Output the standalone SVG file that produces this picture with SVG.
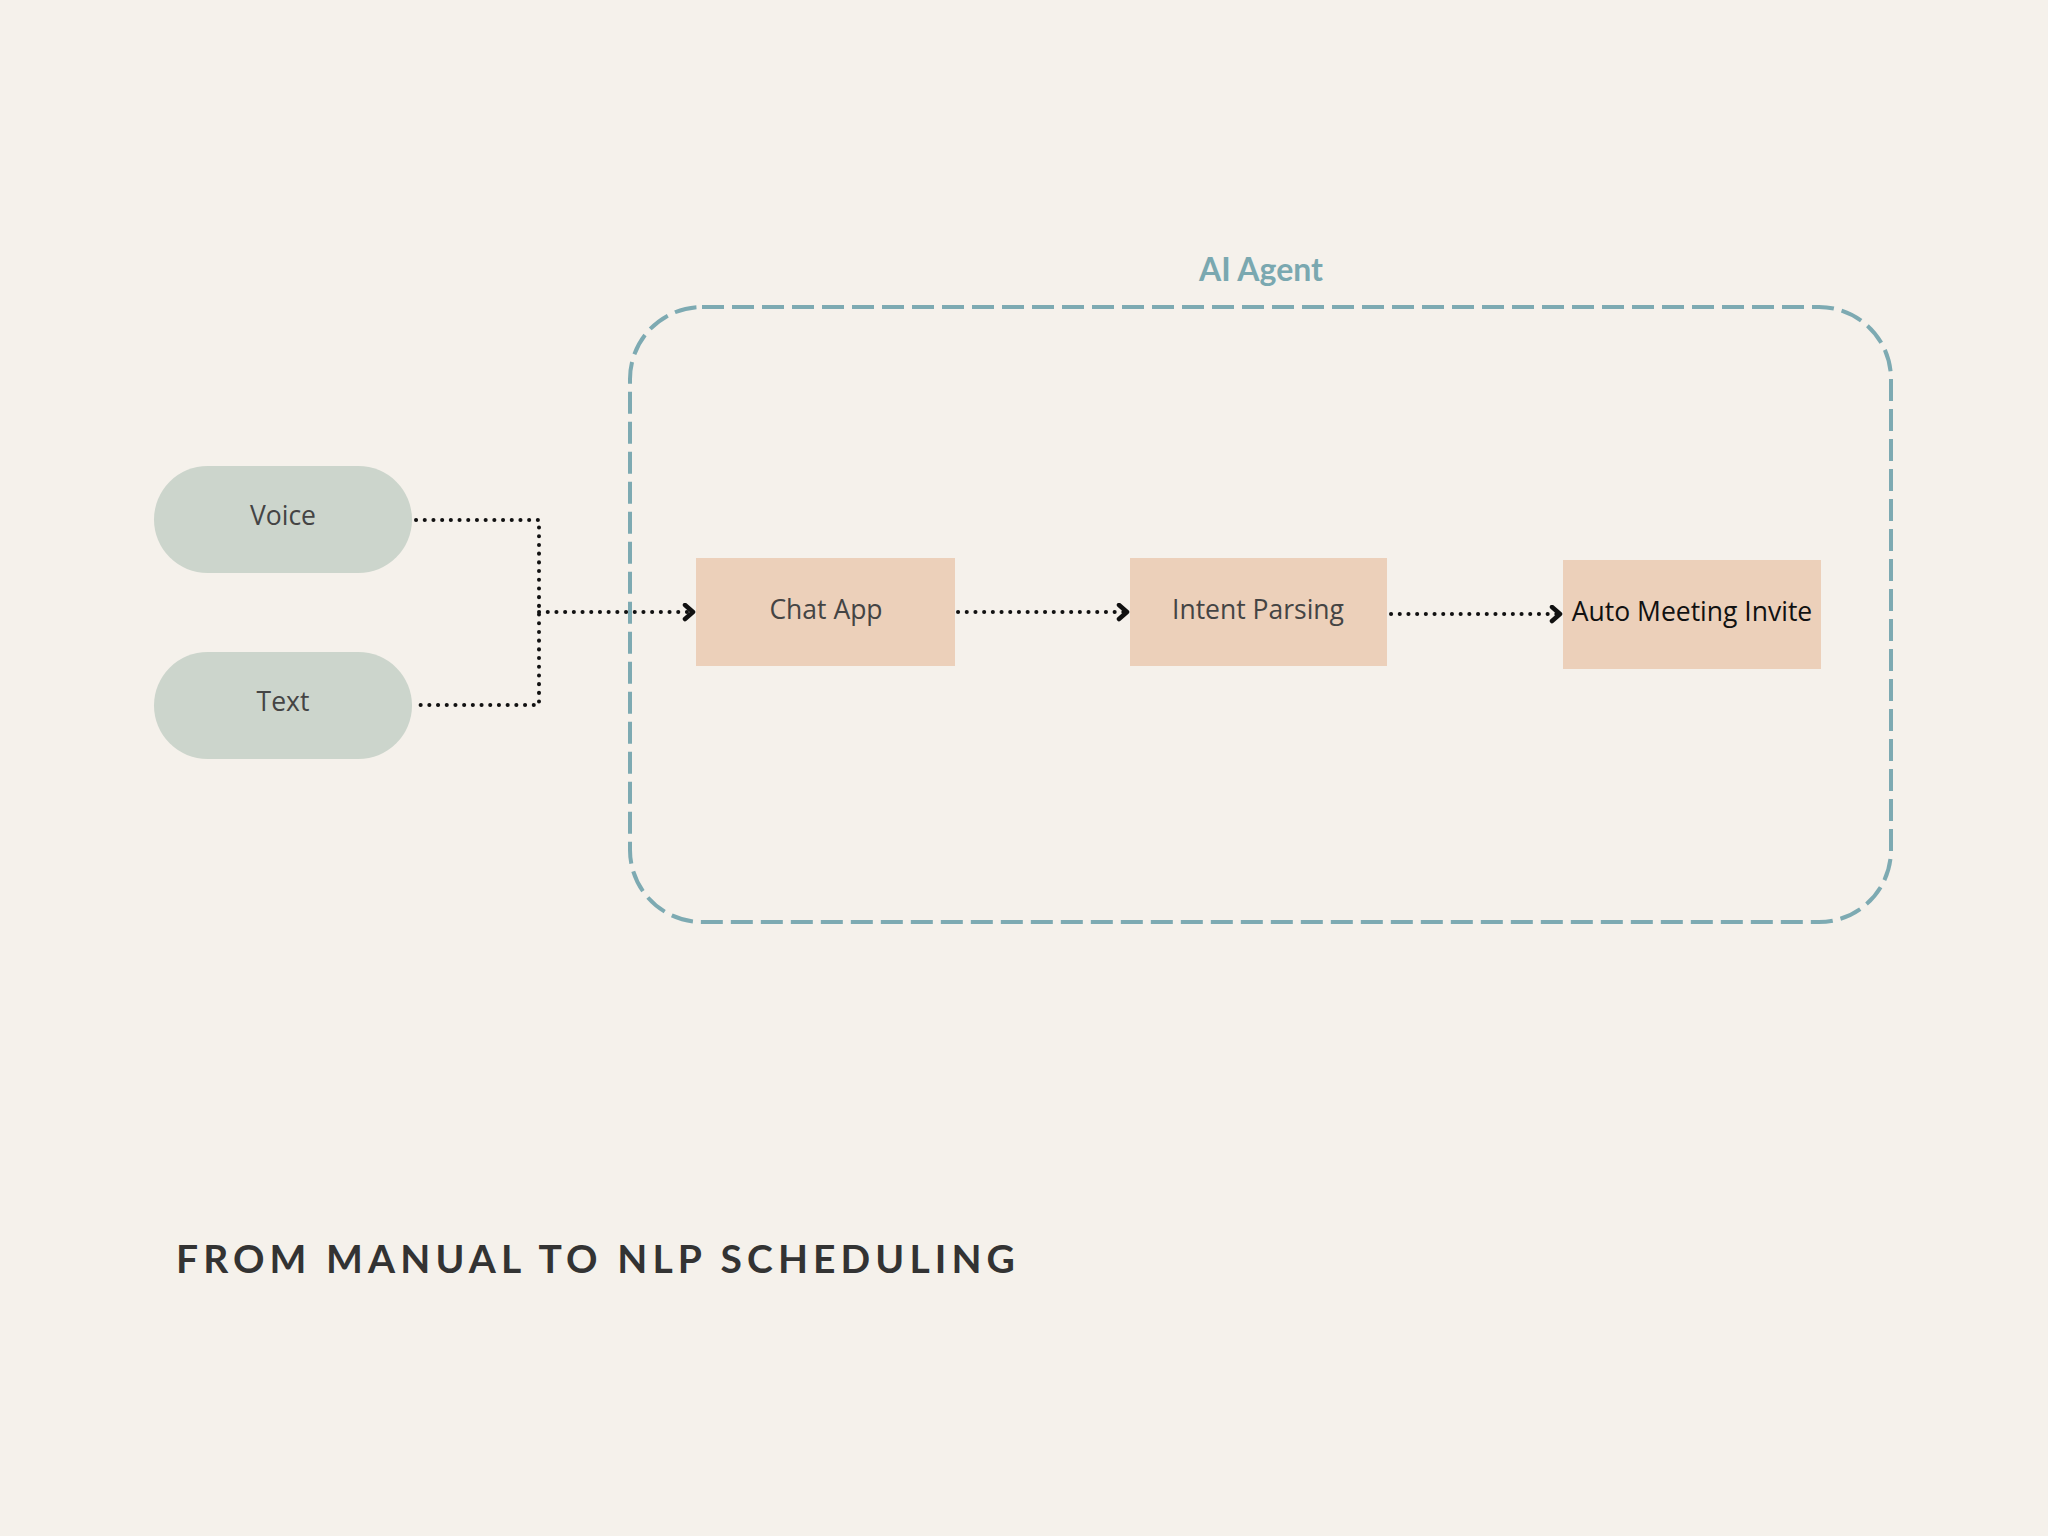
<svg xmlns="http://www.w3.org/2000/svg" width="2048" height="1536" viewBox="0 0 2048 1536">
<defs>
<style>
.pill{fill:#ccd5cc}
.box{fill:#ecd0ba}
.lbl{font-family:"Open Sans","Liberation Sans",sans-serif;font-size:26.5px;fill:#444;text-anchor:middle;font-weight:400}
.dark{fill:#111;font-weight:400}
.conn{fill:none;stroke:#111;stroke-width:4;stroke-linecap:round;stroke-dasharray:0.1 8.6}
</style>
<marker id="arr" markerUnits="userSpaceOnUse" markerWidth="18" markerHeight="20" refX="11" refY="9" orient="auto" viewBox="0 0 18 20">
<path d="M3,2 L11,9 L3,16" fill="none" stroke="#111" stroke-width="4.5" stroke-linecap="round" stroke-linejoin="round"/>
</marker>
</defs>
<rect width="2048" height="1536" fill="#f5f1eb"/>
<g id="ai-agent">
<rect x="630" y="307" width="1261" height="615" rx="72" ry="72" fill="none" stroke="#7daab2" stroke-width="4" stroke-dasharray="22 8"/>
<text x="1261" y="281" text-anchor="middle" font-family="Lato,'Open Sans','Liberation Sans',sans-serif" font-weight="700" font-size="32" fill="#7aa8b0">AI Agent</text>
</g>
<g id="voice">
<rect class="pill" x="154" y="466" width="258" height="107" rx="53.5"/>
<text class="lbl" x="283" y="525">Voice</text>
</g>
<g id="text">
<rect class="pill" x="154" y="652" width="258" height="107" rx="53.5"/>
<text class="lbl" x="283" y="711">Text</text>
</g>
<g id="chat-app">
<rect class="box" x="696" y="558" width="259" height="108"/>
<text class="lbl" x="826" y="619">Chat App</text>
</g>
<g id="intent-parsing">
<rect class="box" x="1130" y="558" width="257" height="108"/>
<text class="lbl" x="1258" y="619">Intent Parsing</text>
</g>
<g id="auto-meeting-invite">
<rect class="box" x="1563" y="560" width="258" height="109"/>
<text class="lbl dark" x="1692" y="621">Auto Meeting Invite</text>
</g>
<g id="connectors">
<path class="conn" d="M416,520 H539 V705 H416"/>
<path class="conn" d="M539,612 H693" marker-end="url(#arr)"/>
<path class="conn" d="M958,612 H1127" marker-end="url(#arr)"/>
<path class="conn" d="M1391,614 H1560" marker-end="url(#arr)"/>
</g>
<text id="title" x="176" y="1273" font-family="Lato,'Open Sans','Liberation Sans',sans-serif" font-weight="700" font-size="39" letter-spacing="5.1" fill="#333">FROM MANUAL TO NLP SCHEDULING</text>
</svg>
